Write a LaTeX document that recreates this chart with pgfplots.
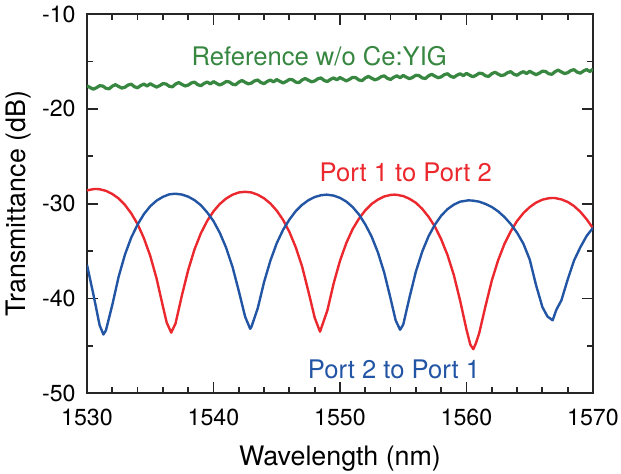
\documentclass[border=0pt]{standalone}
\usepackage{pgfplots}
\pgfplotsset{compat=1.18}
\usepackage{fontspec}
\setmainfont{TeX Gyre Heros}
\definecolor{pred}{RGB}{235,40,45}
\definecolor{pblue}{RGB}{35,85,165}
\definecolor{pgreen}{RGB}{55,135,65}
\begin{document}
\begin{tikzpicture}
\useasboundingbox (-43.5pt,-39.85pt) rectangle (267pt,196.65pt);
\begin{axis}[
  at={(0,0)}, anchor=south west,
  scale only axis, width=253pt, height=189.65pt,
  xmin=1530, xmax=1570, ymin=-50, ymax=-10,
  xtick={1530,1540,1550,1560,1570},
  xticklabels={1530,1540,1550,1560,1570},
  ytick={-50,-40,-30,-20,-10},
  yticklabels={-50,-40,-30,-20,-10},
  minor x tick num=4, minor y tick num=1,
  tick align=inside,
  major tick length=5.5pt, minor tick length=3pt,
  axis line style={line width=1pt, black!85},
  every tick/.style={black!85, line width=0.9pt},
  xticklabel style={font=\fontsize{11.6}{13}\selectfont, inner sep=0pt, anchor=base, yshift=-16pt},
  yticklabel style={font=\fontsize{11.6}{13}\selectfont, inner sep=0pt, anchor=east, xshift=-5.5pt},
  xlabel={Wavelength (nm)}, ylabel={Transmittance (dB)},
  xlabel style={font=\fontsize{13.4}{15}\selectfont, at={(rel axis cs:0.5,-0.19)}, anchor=base, inner sep=0pt},
  ylabel style={font=\fontsize{13.4}{15}\selectfont, at={(rel axis cs:-0.1225,0.5)}, anchor=base, rotate=0, inner sep=0pt},
  clip=true,
]
% Reference w/o Ce:YIG
\addplot[pgreen, line width=1.6pt, line join=round] table {
1530.00 -17.57
1530.25 -17.76
1530.50 -17.93
1530.75 -17.77
1531.00 -17.56
1531.25 -17.60
1531.50 -17.83
1531.75 -17.89
1532.00 -17.61
1532.25 -17.45
1532.50 -17.64
1532.75 -17.81
1533.00 -17.72
1533.25 -17.49
1533.50 -17.40
1533.75 -17.67
1534.00 -17.78
1534.25 -17.54
1534.50 -17.39
1534.75 -17.59
1535.00 -17.35
1535.25 -17.54
1535.50 -17.71
1535.75 -17.55
1536.00 -17.34
1536.25 -17.38
1536.50 -17.62
1536.75 -17.68
1537.00 -17.39
1537.25 -17.23
1537.50 -17.42
1537.75 -17.59
1538.00 -17.50
1538.25 -17.27
1538.50 -17.18
1538.75 -17.45
1539.00 -17.56
1539.25 -17.33
1539.50 -17.17
1539.75 -17.37
1540.00 -17.13
1540.25 -17.32
1540.50 -17.49
1540.75 -17.33
1541.00 -17.12
1541.25 -17.16
1541.50 -17.40
1541.75 -17.46
1542.00 -17.18
1542.25 -17.01
1542.50 -17.20
1542.75 -17.37
1543.00 -17.28
1543.25 -17.05
1543.50 -16.96
1543.75 -17.23
1544.00 -17.34
1544.25 -17.11
1544.50 -16.96
1544.75 -17.16
1545.00 -16.91
1545.25 -17.10
1545.50 -17.27
1545.75 -17.11
1546.00 -16.90
1546.25 -16.94
1546.50 -17.18
1546.75 -17.24
1547.00 -16.96
1547.25 -16.80
1547.50 -16.98
1547.75 -17.15
1548.00 -17.06
1548.25 -16.83
1548.50 -16.74
1548.75 -17.01
1549.00 -17.12
1549.25 -16.89
1549.50 -16.74
1549.75 -16.94
1550.00 -16.70
1550.25 -16.88
1550.50 -17.05
1550.75 -16.89
1551.00 -16.68
1551.25 -16.72
1551.50 -16.96
1551.75 -17.02
1552.00 -16.74
1552.25 -16.58
1552.50 -16.77
1552.75 -16.94
1553.00 -16.84
1553.25 -16.61
1553.50 -16.52
1553.75 -16.79
1554.00 -16.90
1554.25 -16.67
1554.50 -16.52
1554.75 -16.72
1555.00 -16.48
1555.25 -16.67
1555.50 -16.83
1555.75 -16.67
1556.00 -16.46
1556.25 -16.50
1556.50 -16.74
1556.75 -16.80
1557.00 -16.52
1557.25 -16.36
1557.50 -16.55
1557.75 -16.72
1558.00 -16.63
1558.25 -16.39
1558.50 -16.30
1558.75 -16.57
1559.00 -16.68
1559.25 -16.45
1559.50 -16.30
1559.75 -16.50
1560.00 -16.26
1560.25 -16.45
1560.50 -16.62
1560.75 -16.46
1561.00 -16.24
1561.25 -16.28
1561.50 -16.52
1561.75 -16.58
1562.00 -16.30
1562.25 -16.14
1562.50 -16.33
1562.75 -16.50
1563.00 -16.41
1563.25 -16.18
1563.50 -16.08
1563.75 -16.35
1564.00 -16.46
1564.25 -16.23
1564.50 -16.08
1564.75 -16.28
1565.00 -16.04
1565.25 -16.23
1565.50 -16.40
1565.75 -16.24
1566.00 -16.03
1566.25 -16.06
1566.50 -16.30
1566.75 -16.36
1567.00 -16.08
1567.25 -15.92
1567.50 -16.11
1567.75 -16.28
1568.00 -16.19
1568.25 -15.96
1568.50 -15.87
1568.75 -16.13
1569.00 -16.24
1569.25 -16.01
1569.50 -15.86
1569.75 -16.06
1570.00 -15.82
};
% Port 1 to Port 2
\addplot[pred, line width=1.2pt, line join=round] table {
1530.00 -28.60
1530.50 -28.47
1530.70 -28.45
1531.00 -28.48
1531.50 -28.65
1532.00 -28.98
1532.50 -29.45
1533.00 -30.13
1533.50 -31.03
1534.00 -32.16
1534.50 -33.65
1535.00 -35.51
1535.50 -37.89
1536.00 -40.83
1536.30 -42.54
1536.66 -43.60
1537.00 -42.63
1537.50 -39.69
1538.00 -37.00
1538.50 -34.82
1539.00 -33.13
1539.50 -31.82
1540.00 -30.81
1540.50 -30.03
1541.00 -29.46
1541.50 -29.06
1542.00 -28.82
1542.50 -28.75
1543.00 -28.82
1543.50 -29.06
1544.00 -29.44
1544.50 -29.99
1545.00 -30.74
1545.50 -31.71
1546.00 -32.98
1546.50 -34.59
1547.00 -36.61
1547.50 -39.24
1548.00 -42.03
1548.42 -43.50
1549.00 -41.27
1549.50 -38.40
1550.00 -36.02
1550.50 -34.15
1551.00 -32.68
1551.50 -31.58
1552.00 -30.70
1552.50 -30.03
1553.00 -29.57
1553.50 -29.24
1554.00 -29.08
1554.30 -29.05
1554.50 -29.07
1555.00 -29.20
1555.50 -29.49
1556.00 -29.91
1556.50 -30.55
1557.00 -31.38
1557.50 -32.41
1558.00 -33.76
1558.50 -35.42
1559.00 -37.53
1559.50 -40.25
1560.00 -43.28
1560.30 -44.86
1560.54 -45.35
1560.75 -44.70
1561.00 -43.68
1561.50 -40.82
1562.00 -38.11
1562.50 -35.97
1563.00 -34.25
1563.50 -32.92
1564.00 -31.82
1564.50 -30.99
1565.00 -30.36
1565.50 -29.89
1566.00 -29.58
1566.50 -29.43
1566.80 -29.40
1567.00 -29.41
1567.50 -29.55
1568.00 -29.82
1568.50 -30.25
1569.00 -30.86
1569.50 -31.65
1570.00 -32.60
};
% Port 2 to Port 1
\addplot[pblue, line width=1.2pt, line join=round] table {
1530.00 -36.45
1530.50 -39.54
1531.00 -42.83
1531.30 -43.80
1531.50 -43.35
1532.00 -40.68
1532.50 -37.71
1533.00 -35.37
1533.50 -33.57
1534.00 -32.20
1534.50 -31.10
1535.00 -30.27
1535.50 -29.68
1536.00 -29.28
1536.50 -29.02
1536.98 -28.95
1537.50 -29.04
1538.00 -29.26
1538.50 -29.63
1539.00 -30.16
1539.50 -30.92
1540.00 -31.84
1540.50 -33.08
1541.00 -34.65
1541.50 -36.65
1542.00 -39.21
1542.50 -41.92
1542.90 -43.20
1543.00 -42.99
1543.50 -41.02
1544.00 -38.26
1544.50 -36.00
1545.00 -34.17
1545.50 -32.76
1546.00 -31.68
1546.50 -30.79
1547.00 -30.13
1547.50 -29.64
1548.00 -29.30
1548.50 -29.11
1548.95 -29.05
1549.50 -29.15
1550.00 -29.39
1550.50 -29.78
1551.00 -30.36
1551.50 -31.14
1552.00 -32.19
1552.50 -33.47
1553.00 -35.15
1553.50 -37.29
1554.00 -40.02
1554.40 -42.30
1554.75 -43.30
1555.00 -42.75
1555.50 -39.86
1556.00 -37.16
1556.50 -35.06
1557.00 -33.44
1557.50 -32.22
1558.00 -31.27
1558.50 -30.58
1559.00 -30.10
1559.50 -29.79
1560.15 -29.65
1560.50 -29.68
1561.00 -29.79
1561.50 -30.03
1562.00 -30.35
1562.50 -30.81
1563.00 -31.41
1563.50 -32.15
1564.00 -33.07
1564.50 -34.23
1565.00 -35.90
1565.50 -38.60
1566.00 -40.90
1566.40 -41.90
1566.81 -42.30
1567.10 -41.20
1567.50 -40.20
1568.00 -38.00
1568.50 -36.00
1569.00 -34.60
1569.50 -33.40
1570.00 -32.55
};
\node[pgreen, anchor=base, inner sep=0pt, font=\fontsize{12.8}{14}\selectfont] at (axis cs:1548.36,-15.39) {Reference w/o Ce:YIG};
\node[pred, anchor=base, inner sep=0pt, font=\fontsize{12.8}{14}\selectfont] at (axis cs:1555.2,-27.69) {Port 1 to Port 2};
\node[pblue, anchor=base, inner sep=0pt, font=\fontsize{12.8}{14}\selectfont] at (axis cs:1554.27,-48.43) {Port 2 to Port 1};
\end{axis}
\end{tikzpicture}
\end{document}
